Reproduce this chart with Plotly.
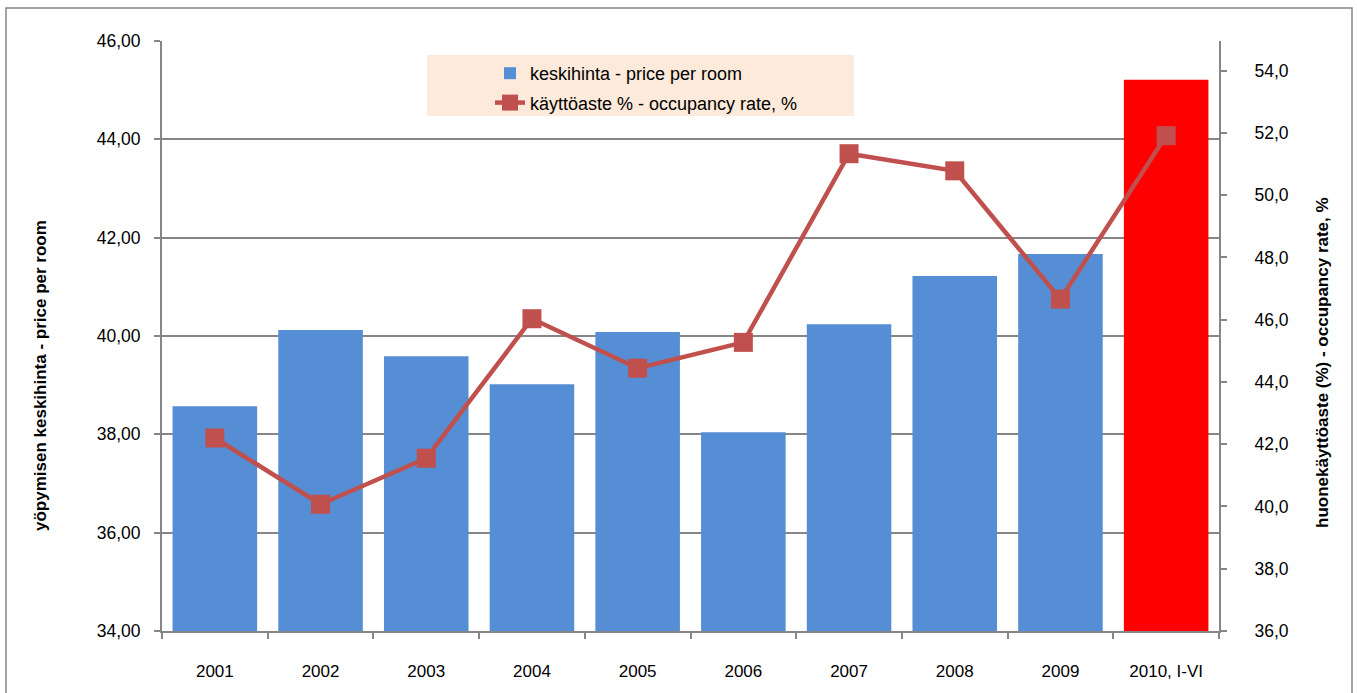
import plotly.graph_objects as go

categories = ["2001", "2002", "2003", "2004", "2005", "2006", "2007", "2008", "2009", "2010, I-VI"]
price_per_room = [38.57, 40.12, 39.59, 39.02, 40.08, 38.04, 40.24, 41.22, 41.67, 45.21]
occupancy_rate = [42.20, 40.07, 41.55, 46.03, 44.44, 45.27, 51.33, 50.78, 46.66, 51.91]
bar_colors = ["#558ED5"] * 9 + ["#FF0000"]

left_ticks = [34, 36, 38, 40, 42, 44, 46]
right_ticks = [36, 38, 40, 42, 44, 46, 48, 50, 52, 54]

FONT = "Arial, Liberation Sans, sans-serif"
GRID = "#868686"

fig = go.Figure()
fig.add_trace(go.Bar(
    x=categories, y=price_per_room, name="keskihinta - price per room",
    marker=dict(color=bar_colors, line=dict(width=0)),
    legendgroup="a", yaxis="y",
))
fig.add_trace(go.Scatter(
    x=categories, y=occupancy_rate, name="käyttöaste % - occupancy rate, %",
    mode="lines+markers", yaxis="y2", legendgroup="b",
    line=dict(color="#C0504D", width=4.5),
    marker=dict(symbol="square", size=19, color="#C0504D", line=dict(width=0)),
))

W, H = 1357, 693
L, R, T, B = 162, 138, 41, 62
pw, ph = W - L - R, H - T - B

def px_x(x):
    return (x - L) / pw

def px_y(y):
    return (H - B - y) / ph

fig.update_layout(
    width=W, height=H,
    margin=dict(l=L, r=R, t=T, b=B),
    paper_bgcolor="white", plot_bgcolor="white",
    separators=", ",
    font=dict(family=FONT, size=17, color="#000000"),
    bargap=0.2,
    showlegend=True,
    legend=dict(
        x=px_x(490), y=px_y(55), xanchor="left", yanchor="top",
        bgcolor="rgba(0,0,0,0)", font=dict(family=FONT, size=18, color="#000000"),
        tracegroupgap=3, traceorder="grouped",
    ),
    xaxis=dict(
        type="category", range=[-0.5, len(categories) - 0.5],
        showgrid=False, showline=True, linecolor=GRID, linewidth=2,
        ticks="outside", tickson="boundaries", ticklen=6, tickcolor=GRID, tickwidth=1.5,
        ticklabelstandoff=24, tickfont=dict(size=17),
    ),
    yaxis=dict(
        range=[34, 46], tickvals=left_ticks, tickformat=".2f",
        showgrid=True, gridcolor=GRID, gridwidth=1.5, zeroline=False,
        showline=True, linecolor=GRID, linewidth=2,
        ticks="outside", ticklen=6, tickcolor=GRID, tickwidth=1.5,
        ticklabelstandoff=10, tickfont=dict(size=17.5),
    ),
    yaxis2=dict(
        range=[36, 54.95], tickvals=right_ticks, tickformat=".1f",
        overlaying="y", side="right", showgrid=False, zeroline=False,
        showline=True, linecolor=GRID, linewidth=2,
        ticks="outside", ticklen=6, tickcolor=GRID, tickwidth=1.5,
        ticklabelstandoff=24, tickfont=dict(size=17.5),
    ),
    shapes=[
        dict(type="rect", xref="paper", yref="paper",
             x0=px_x(6), x1=px_x(1352), y0=px_y(720), y1=px_y(8),
             line=dict(color=GRID, width=1.5), fillcolor="rgba(0,0,0,0)", layer="below"),
        dict(type="rect", xref="paper", yref="paper",
             x0=px_x(427), x1=px_x(854), y0=px_y(116), y1=px_y(55),
             line=dict(width=0), fillcolor="#FDEADA", layer="above"),
    ],
    annotations=[
        dict(text="<b>yöpymisen keskihinta - price per room</b>", xref="paper", yref="paper",
             x=px_x(40), y=px_y(376), xanchor="center", yanchor="middle", textangle=-90,
             showarrow=False, font=dict(family=FONT, size=17, color="#000000")),
        dict(text="<b>huonekäyttöaste (%) - occupancy rate, %</b>", xref="paper", yref="paper",
             x=px_x(1322), y=px_y(363), xanchor="center", yanchor="middle", textangle=-90,
             showarrow=False, font=dict(family=FONT, size=17, color="#000000")),
    ],
)

fig.write_html(
    "out.html",
    config={"displayModeBar": False},
    post_script="document.body.style.margin='0';document.body.style.overflow='hidden';",
)
